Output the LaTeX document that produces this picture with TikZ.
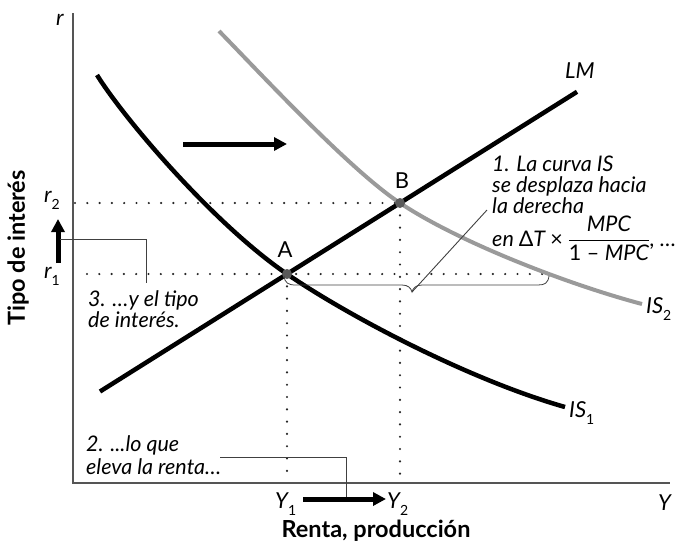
\documentclass[tikz,border=0pt]{standalone}
\usepackage{fontspec}
\usepackage{amsmath}
\setmainfont{Lato}
\usetikzlibrary{arrows.meta}
\definecolor{isgray}{HTML}{9A9A9A}
\definecolor{axisgray}{HTML}{555555}
\definecolor{dotgray}{HTML}{5A5A5A}
\newcommand{\lowsub}[1]{\raisebox{-0.36em}{\fontsize{14}{14}\selectfont\upshape #1}}
\begin{document}
\begin{tikzpicture}[x=1pt,y=-1pt,
  curve/.style={line width=4.5pt},
  graycurve/.style={line width=4pt, color=isgray},
  axis/.style={line width=1.2pt, color=axisgray},
  dots/.style={line width=2.4pt, line cap=round, dash pattern=on 0pt off 12.3pt, color=black!85},
  leader/.style={line width=0.9pt, color=black!75},
  bigarrow/.style={line width=5pt, -{Triangle[length=13pt,width=13pt]}},
  ptmark/.style={circle, fill=dotgray, inner sep=0pt, minimum size=10pt},
  ann/.style={font=\fontsize{21.5}{22}\selectfont\itshape, inner sep=0pt, anchor=base west},
  var/.style={font=\fontsize{22}{24}\selectfont\itshape, inner sep=0pt, anchor=base west},
  ptlab/.style={font=\fontsize{22}{24}\selectfont, inner sep=0pt, anchor=base},
  axlabel/.style={font=\fontsize{23.5}{26}\selectfont\bfseries, inner sep=0pt}
]
\useasboundingbox (0,0) rectangle (680,550);

% axes
\coordinate (O) at (73,483);
\coordinate (ytop) at (73,13);
\coordinate (xend) at (670,483);
\draw[axis] (ytop) -- (O) -- (xend);

% intersection points
\coordinate (Ac) at (287,274);
\coordinate (Bc) at (400,203);

% dotted guides
\coordinate (r2s) at (75,203);
\coordinate (r1s) at (87,274);
\coordinate (r1e) at (545,274);
\coordinate (y1b) at (287,483);
\coordinate (y2b) at (400,483);
\draw[dots] (r2s) -- (Bc);
\draw[dots] (r1s) -- (r1e);
\draw[dots] (Ac) -- (y1b);
\draw[dots] (Bc) -- (y2b);

% curves
\draw[curve] (100,391.5) -- (577,91.8);
\draw[curve] (97,75) .. controls (125,120) and (215,225) .. (Ac)
             .. controls (350,317) and (470,380) .. (565,407);
\draw[graycurve] (219,31) .. controls (260,73) and (350,170) .. (Bc)
             .. controls (460,243) and (570,285) .. (642,304);

% points
\node[ptmark] (A) at (Ac) {};
\node[ptmark] (B) at (Bc) {};
\node[ptlab] (Alab) at (285,257) {A};
\node[ptlab] (Blab) at (402,188) {B};

% brace
\coordinate (bt) at (412,292);
\draw[leader, line width=0.8pt] (284,276) .. controls (285,283) and (288,285) .. (296,285) -- (402,285)
   .. controls (408,285) and (411,288) .. (bt)
   .. controls (413,288) and (416,285) .. (422,285) -- (538,285)
   .. controls (545,285) and (548,283) .. (549,276);
\coordinate (l1end) at (487,210);
\draw[leader] (bt) -- (l1end);

% arrows
\coordinate (ta1) at (183,144);
\coordinate (ta2) at (287,144);
\draw[bigarrow] (ta1) -- (ta2);
\coordinate (ba1) at (303,499);
\coordinate (ba2) at (386,499);
\draw[bigarrow] (ba1) -- (ba2);
\coordinate (la1) at (58,263);
\coordinate (la2) at (58,219);
\draw[bigarrow] (la1) -- (la2);

% leaders 2 and 3
\coordinate (l3s) at (60,239);
\coordinate (l3e) at (146,283);
\draw[leader] (l3s) -| (l3e);
\coordinate (l2s) at (220,457);
\coordinate (l2e) at (346,497);
\draw[leader] (l2s) -| (l2e);

% axis variable labels
\node[var] (r) at (56,25) {r};
\node[var] (r2) at (44,202) {r\lowsub{2}};
\node[var] (r1) at (44,278) {r\lowsub{1}};
\node[var] (Y1) at (275,508) {Y\lowsub{1}};
\node[var] (Y2) at (387,508) {Y\lowsub{2}};
\node[var] (Y) at (658,510) {Y};
\node[var] (LM) at (565,78) {LM};
\node[var] (IS1) at (569,417) {IS\lowsub{1}};
\node[var] (IS2) at (646,313) {IS\lowsub{2}};

% axis titles
\node[axlabel, rotate=90] (ylab) at (18,248) {Tipo de interés};
\node[axlabel, anchor=base] (xlab) at (376,537) {Renta, producción};

% annotations
\node[ann] (t1a) at (492,171) {1. La curva IS};
\node[ann] (t1b) at (492,192) {se desplaza hacia};
\node[ann] (t1c) at (492,213) {la derecha};
\node[ann] (t1d) at (492,246) {en \upshape Δ\itshape T \upshape×\itshape\ $\dfrac{\text{\itshape MPC}}{\text{\upshape 1 – \itshape MPC}}$, …};
\node[ann] (t2a) at (86,451) {2. ...lo que};
\node[ann] (t2b) at (86,474) {eleva la renta…};
\node[ann] (t3a) at (88,306) {3. …y el tipo};
\node[ann] (t3b) at (88,327) {de interés.};
\end{tikzpicture}
\end{document}
